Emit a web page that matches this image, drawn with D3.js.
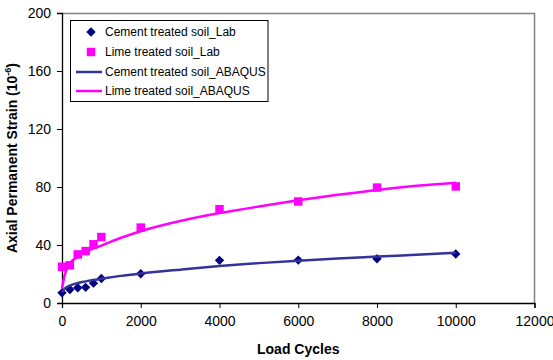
<!DOCTYPE html>
<html>
<head>
<meta charset="utf-8">
<script src="https://cdn.jsdelivr.net/npm/d3@7"></script>
<style>
    body { margin: 0; background: #fff; }
    svg { display: block; font-family: "Liberation Sans", Arial, sans-serif; }
</style>
</head>
<body>
<div id="chart"></div>
<script>
// lab data points
var labCycles = [0, 200, 400, 600, 800, 1000, 2000, 4000, 6000, 8000, 10000];
var cementLab = [7, 9.3, 10.5, 10.8, 13.7, 16.9, 20.2, 29.4, 29.6, 30.5, 33.8];
var limeLab = [25, 26, 33.5, 35.8, 40.5, 45.5, 52, 64.7, 70, 79.6, 80.4];

// ABAQUS curves
var fitCycles = [0, 50, 100, 200, 400, 600, 800, 1000, 1500, 2000, 3000, 4000, 5000, 6000, 7000, 8000, 9000, 10000];
var cementFit = [7.5, 9.3, 10.5, 12, 13.8, 14.9, 15.9, 16.7, 18.7, 20.3, 23, 25.5, 27.5, 29.2, 30.7, 32, 33.3, 34.6];
var limeFit = [10, 17, 22, 27.3, 31.9, 35.2, 37.6, 39.6, 45, 49.5, 56.5, 62, 66.6, 70.8, 74.6, 78, 80.8, 83];

var xTicks = [0, 2000, 4000, 6000, 8000, 10000, 12000];
var yTicks = [0, 40, 80, 120, 160, 200];
var legendNames = ["Cement treated soil_Lab", "Lime treated soil_Lab", "Cement treated soil_ABAQUS", "Lime treated soil_ABAQUS"];

var width = 553, height = 360;
var plotLeft = 62, plotRight = 534.5, plotTop = 13, plotBottom = 303;

var svg = d3.select("#chart").append("svg")
    .attr("width", width)
    .attr("height", height);

var x = d3.scaleLinear().domain([0, 12000]).range([plotLeft, plotRight]);
var y = d3.scaleLinear().domain([0, 200]).range([plotBottom, plotTop]);

//plot area border (top and right, gray)
svg.append("path")
    .attr("d", "M" + plotLeft + "," + (plotTop + 0.5) + "H" + plotRight + "V" + plotBottom)
    .attr("fill", "none")
    .attr("stroke", "#808080")
    .attr("stroke-width", 1.5);

//axes
var xAxis = svg.append("g")
    .attr("transform", "translate(0," + plotBottom + ")")
    .call(d3.axisBottom(x).tickValues(xTicks).tickSize(5).tickPadding(6).tickFormat(d3.format("d")));
var yAxis = svg.append("g")
    .attr("transform", "translate(" + plotLeft + ",0)")
    .call(d3.axisLeft(y).tickValues(yTicks).tickSize(5).tickPadding(6));

[xAxis, yAxis].forEach(function (g) {
    g.select(".domain").attr("stroke", "#000").attr("stroke-width", 1.3);
    g.selectAll(".tick line").attr("stroke", "#000");
    g.selectAll(".tick text")
        .attr("fill", "#000")
        .attr("font-size", "14px")
        .attr("font-family", "Liberation Sans, Arial, sans-serif");
});
xAxis.selectAll(".tick text").attr("dy", "0.85em");

//axis titles
svg.append("text")
    .attr("x", (plotLeft + plotRight) / 2)
    .attr("y", 354)
    .attr("text-anchor", "middle")
    .attr("font-size", "14px")
    .attr("font-weight", "bold")
    .text("Load Cycles");

var yTitle = svg.append("text")
    .attr("transform", "translate(17," + ((plotTop + plotBottom) / 2) + ") rotate(-90)")
    .attr("text-anchor", "middle")
    .attr("font-size", "14px")
    .attr("font-weight", "bold");
yTitle.append("tspan").text("Axial Permanent Strain (10");
yTitle.append("tspan").attr("font-size", "9px").attr("dy", "-6").text("-6");
yTitle.append("tspan").attr("dy", "6").text(")");

//markers
var diamond = d3.symbol().type(d3.symbolSquare).size(44);
var square = d3.symbol().type(d3.symbolSquare).size(72);

svg.append("g").selectAll("path")
    .data(labCycles)
    .enter().append("path")
    .attr("d", diamond)
    .attr("transform", function (d, i) { return "translate(" + x(d) + "," + y(cementLab[i]) + ") rotate(45)"; })
    .attr("fill", "#000080");

svg.append("g").selectAll("path")
    .data(labCycles)
    .enter().append("path")
    .attr("d", square)
    .attr("transform", function (d, i) { return "translate(" + x(d) + "," + y(limeLab[i]) + ")"; })
    .attr("fill", "#FF00FF");

//ABAQUS curves
function fitLine(vals) {
    return d3.line()
        .x(function (d) { return x(d); })
        .y(function (d, i) { return y(vals[i]); })
        .curve(d3.curveMonotoneX)(fitCycles);
}
svg.append("path")
    .attr("d", fitLine(cementFit))
    .attr("fill", "none")
    .attr("stroke", "#333399")
    .attr("stroke-width", 2.5);
svg.append("path")
    .attr("d", fitLine(limeFit))
    .attr("fill", "none")
    .attr("stroke", "#FF00FF")
    .attr("stroke-width", 2.5);

//legend
var gLegend = svg.append("g").attr("class", "gLegend");
gLegend.append("rect")
    .attr("x", 70.5)
    .attr("y", 20.5)
    .attr("width", 197.5)
    .attr("height", 81)
    .attr("fill", "#fff")
    .attr("stroke", "#000")
    .attr("stroke-width", 1);

var rowY = [32, 52, 72, 91];
gLegend.append("path")
    .attr("d", diamond)
    .attr("transform", "translate(91," + rowY[0] + ") rotate(45)")
    .attr("fill", "#000080");
gLegend.append("path")
    .attr("d", square)
    .attr("transform", "translate(91," + rowY[1] + ")")
    .attr("fill", "#FF00FF");
gLegend.append("line")
    .attr("x1", 76).attr("x2", 102)
    .attr("y1", rowY[2]).attr("y2", rowY[2])
    .attr("stroke", "#333399").attr("stroke-width", 2.5);
gLegend.append("line")
    .attr("x1", 76).attr("x2", 102)
    .attr("y1", rowY[3]).attr("y2", rowY[3])
    .attr("stroke", "#FF00FF").attr("stroke-width", 2.5);

gLegend.selectAll("text")
    .data(legendNames)
    .enter().append("text")
    .attr("x", 105)
    .attr("y", function (d, i) { return rowY[i]; })
    .attr("dy", "0.35em")
    .attr("font-size", "12px")
    .attr("fill", "#000")
    .text(function (d) { return d; });
</script>
</body>
</html>
